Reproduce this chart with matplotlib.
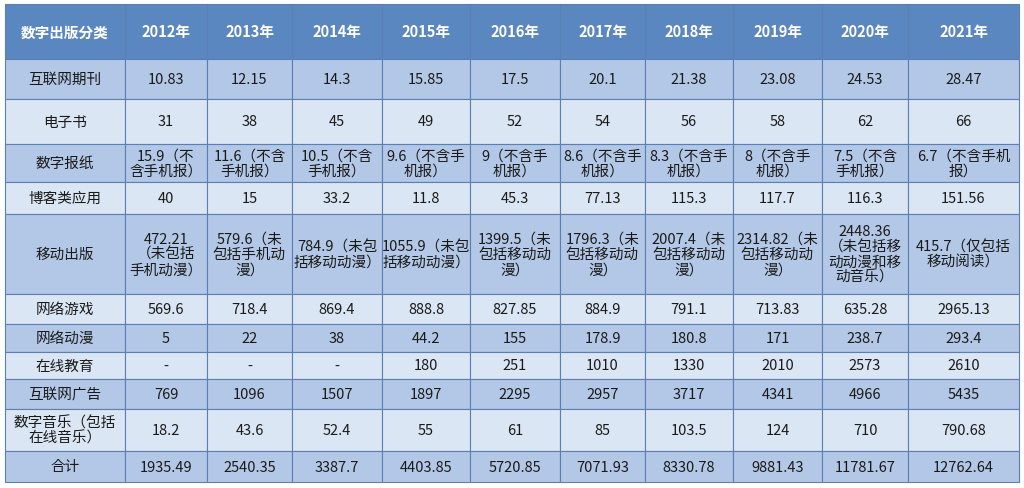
import matplotlib.pyplot as plt
from matplotlib.patches import Rectangle

plt.rcParams["font.family"] = ["Noto Sans CJK JP", "Noto Sans CJK SC", "Noto Sans CJK TC", "DejaVu Sans"]

header = ["数字出版分类", "2012年", "2013年", "2014年", "2015年", "2016年",
          "2017年", "2018年", "2019年", "2020年", "2021年"]

categories = ["互联网期刊", "电子书", "数字报纸", "博客类应用", "移动出版", "网络游戏",
              "网络动漫", "在线教育", "互联网广告", "数字音乐（包括\n在线音乐）", "合计"]

internet_journal = ["10.83", "12.15", "14.3", "15.85", "17.5", "20.1", "21.38", "23.08", "24.53", "28.47"]
ebook = ["31", "38", "45", "49", "52", "54", "56", "58", "62", "66"]
digital_newspaper = ["15.9（不\n含手机报）", "11.6（不含\n手机报）", "10.5（不含\n手机报）", "9.6（不含手\n机报）",
                     "9（不含手\n机报）", "8.6（不含手\n机报）", "8.3（不含手\n机报）", "8（不含手\n机报）",
                     "7.5（不含\n手机报）", "6.7（不含手机\n报）"]
blog_apps = ["40", "15", "33.2", "11.8", "45.3", "77.13", "115.3", "117.7", "116.3", "151.56"]
mobile_pub = ["472.21\n（未包括\n手机动漫）", "579.6（未\n包括手机动\n漫）", "784.9（未包\n括移动动漫）",
              "1055.9（未包\n括移动动漫）", "1399.5（未\n包括移动动\n漫）", "1796.3（未\n包括移动动\n漫）",
              "2007.4（未\n包括移动动\n漫）", "2314.82（未\n包括移动动\n漫）",
              "2448.36\n（未包括移\n动动漫和移\n动音乐）", "415.7（仅包括\n移动阅读）"]
online_games = ["569.6", "718.4", "869.4", "888.8", "827.85", "884.9", "791.1", "713.83", "635.28", "2965.13"]
online_anime = ["5", "22", "38", "44.2", "155", "178.9", "180.8", "171", "238.7", "293.4"]
online_edu = ["-", "-", "-", "180", "251", "1010", "1330", "2010", "2573", "2610"]
internet_ads = ["769", "1096", "1507", "1897", "2295", "2957", "3717", "4341", "4966", "5435"]
digital_music = ["18.2", "43.6", "52.4", "55", "61", "85", "103.5", "124", "710", "790.68"]
total = ["1935.49", "2540.35", "3387.7", "4403.85", "5720.85", "7071.93", "8330.78", "9881.43", "11781.67", "12762.64"]

rows = [internet_journal, ebook, digital_newspaper, blog_apps, mobile_pub, online_games,
        online_anime, online_edu, internet_ads, digital_music, total]

col_edges = [5, 125, 207, 292, 382, 470, 560, 645, 733, 822, 908, 1019]
row_edges = [5, 60, 100, 145, 183, 215, 295, 325, 353, 380, 410, 452, 483]

fig = plt.figure(figsize=(10.24, 4.89), dpi=100)
ax = fig.add_axes([0, 0, 1, 1])
ax.set_xlim(0, 1024)
ax.set_ylim(489, 0)
ax.axis("off")

header_color = "#5b87c0"
dark = "#b3c8e6"
light = "#dbe6f4"
edge = "#5a7fb0"

for r in range(len(row_edges) - 1):
    y0, y1 = row_edges[r], row_edges[r + 1]
    if r == 0:
        cells, face, color, weight = header, header_color, "white", "bold"
    else:
        cells = [categories[r - 1]] + rows[r - 1]
        face = dark if (r - 1) % 2 == 0 else light
        color, weight = "#1a1a1a", "normal"
    for c in range(len(col_edges) - 1):
        x0, x1 = col_edges[c], col_edges[c + 1]
        ax.add_patch(Rectangle((x0, y0), x1 - x0, y1 - y0, facecolor=face,
                               edgecolor=edge, linewidth=0.8))
        ax.text((x0 + x1) / 2, (y0 + y1) / 2, cells[c], ha="center", va="center",
                fontsize=10.5, color=color, fontweight=weight, linespacing=1.1)

fig.savefig("out.png", dpi=100)
